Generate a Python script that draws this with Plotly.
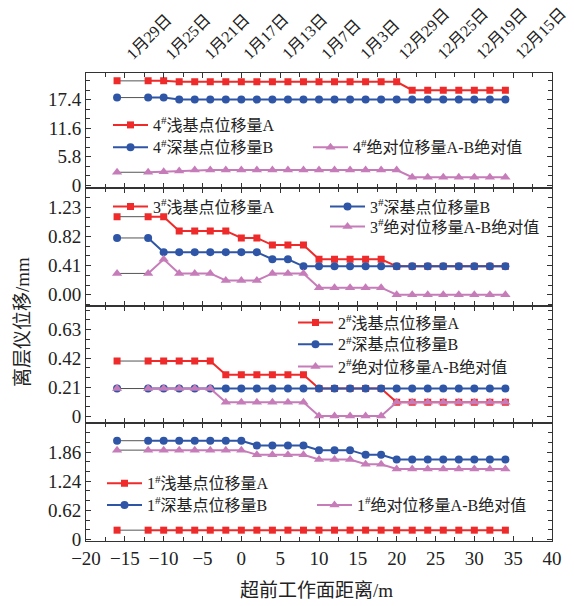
import plotly.graph_objects as go
import numpy as np

# ---------------- data ----------------
x_dist = [-16, -12, -10, -8, -6, -4, -2, 0, 2, 4, 6, 8, 10, 12, 14, 16, 18, 20, 22, 24, 26, 28, 30, 32, 34]

a4 = [21.2, 21.2, 21.2] + [21.0] * 15 + [19.3] * 7
b4 = [17.8, 17.8, 17.8] + [17.4] * 22
p4 = [2.6, 2.6, 2.7, 2.85] + [3.05] * 14 + [1.6] * 7

a3 = [1.1, 1.1, 1.1, 0.9, 0.9, 0.9, 0.9, 0.8, 0.8, 0.7, 0.7, 0.7, 0.5, 0.5, 0.5, 0.5, 0.5] + [0.4] * 8
b3 = [0.8, 0.8] + [0.6] * 7 + [0.5, 0.5] + [0.4] * 14
p3 = [0.3, 0.3, 0.5, 0.3, 0.3, 0.3, 0.2, 0.2, 0.2, 0.3, 0.3, 0.3, 0.1, 0.1, 0.1, 0.1, 0.1] + [0.0] * 8

a2 = [0.4] * 6 + [0.3] * 6 + [0.2] * 5 + [0.1] * 8
b2 = [0.2] * 25
p2 = [0.2] * 6 + [0.1] * 6 + [0.0] * 5 + [0.1] * 8

a1 = [0.2] * 25
b1 = [2.1] * 8 + [2.0] * 4 + [1.9] * 3 + [1.8] * 2 + [1.7] * 8
p1 = [1.9] * 8 + [1.8] * 4 + [1.7] * 3 + [1.6] * 2 + [1.5] * 8

x_ticks = [-20, -15, -10, -5, 0, 5, 10, 15, 20, 25, 30, 35, 40]
x_tick_labels = ["−20", "−15", "−10", "−5", "0", "5", "10", "15", "20", "25", "30", "35", "40"]
date_positions = [-15, -10, -5, 0, 5, 10, 15, 20, 25, 30, 35]
date_labels = ["1月29日", "1月25日", "1月21日", "1月17日", "1月13日", "1月7日", "1月3日",
               "12月29日", "12月25日", "12月19日", "12月15日"]

y_majors = {
    4: ([0, 5.8, 11.6, 17.4], ["0", "5.8", "11.6", "17.4"]),
    3: ([0, 0.41, 0.82, 1.23], ["0.00", "0.41", "0.82", "1.23"]),
    2: ([0, 0.21, 0.42, 0.63], ["0", "0.21", "0.42", "0.63"]),
    1: ([0, 0.62, 1.24, 1.86], ["0", "0.62", "1.24", "1.86"]),
}
y_ranges = {4: [-0.67, 22.8], 3: [-0.16, 1.50], 2: [-0.053, 0.80], 1: [-0.03, 2.47]}
domains = {1: [0, 0.2515], 2: [0.2515, 0.502], 3: [0.502, 0.7536], 4: [0.7536, 1]}

RED = "#ee2a2a"
BLUE = "#2f56a6"
PINK = "#c77cba"
GRAY = "#555555"

FONT_SERIF = "Liberation Serif, Noto Sans CJK SC, serif"
FONT_CJK = "Liberation Serif, Noto Sans CJK SC, sans-serif"

series = {
    4: [(a4, "4<sup>#</sup>浅基点位移量A", RED, "square"),
        (b4, "4<sup>#</sup>深基点位移量B", BLUE, "circle"),
        (p4, "4<sup>#</sup>绝对位移量A-B绝对值", PINK, "triangle-up")],
    3: [(a3, "3<sup>#</sup>浅基点位移量A", RED, "square"),
        (b3, "3<sup>#</sup>深基点位移量B", BLUE, "circle"),
        (p3, "3<sup>#</sup>绝对位移量A-B绝对值", PINK, "triangle-up")],
    2: [(a2, "2<sup>#</sup>浅基点位移量A", RED, "square"),
        (b2, "2<sup>#</sup>深基点位移量B", BLUE, "circle"),
        (p2, "2<sup>#</sup>绝对位移量A-B绝对值", PINK, "triangle-up")],
    1: [(a1, "1<sup>#</sup>浅基点位移量A", RED, "square"),
        (b1, "1<sup>#</sup>深基点位移量B", BLUE, "circle"),
        (p1, "1<sup>#</sup>绝对位移量A-B绝对值", PINK, "triangle-up")],
}

W_PLOT, H_PLOT, L, B = 466.0, 468.0, 86.0, 65.0
def px2paper(px, py):
    return (px - L) / W_PLOT, (606 - B - py) / H_PLOT

legend_px = {
    4: [(108, 125), (108, 147.3), (308, 147.3)],
    3: [(108, 206.7), (325, 206.7), (325, 226.7)],
    2: [(293, 322.7), (293, 344.3), (293, 366.7)],
    1: [(102, 483.3), (102, 505), (312, 505)],
}

fig = go.Figure()
layout = {}
leg_idx = 0
for panel in [4, 3, 2, 1]:
    xa = "x" if panel == 1 else f"x{panel}"
    ya = "y" if panel == 1 else f"y{panel}"
    for k, (vals, name, color, sym) in enumerate(series[panel]):
        leg_idx += 1
        lname = "legend" if leg_idx == 1 else f"legend{leg_idx}"
        msize = 7 if sym == "square" else (8 if sym == "circle" else 9)
        fig.add_trace(go.Scatter(x=x_dist[:2], y=vals[:2], mode="lines",
                                 line=dict(color=GRAY, width=1), showlegend=False,
                                 hoverinfo="skip", xaxis=xa, yaxis=ya))
        fig.add_trace(go.Scatter(x=x_dist[:1], y=vals[:1], mode="markers",
                                 marker=dict(symbol=sym, size=msize, color=color),
                                 showlegend=False, xaxis=xa, yaxis=ya))
        fig.add_trace(go.Scatter(x=x_dist[1:], y=vals[1:], mode="lines+markers", name=name,
                                 line=dict(color=color, width=2),
                                 marker=dict(symbol=sym, size=msize, color=color),
                                 legend=lname, xaxis=xa, yaxis=ya))
        lx, ly = px2paper(*legend_px[panel][k])
        layout[lname] = dict(x=lx, y=ly, xanchor="left", yanchor="middle",
                             bgcolor="rgba(0,0,0,0)", borderwidth=0, itemwidth=35,
                             font=dict(family=FONT_CJK, size=16, color="#222"),
                             tracegroupgap=0)

axis_common = dict(showline=True, linecolor="#333", linewidth=1, mirror="allticks",
                   ticks="inside", ticklen=5, tickcolor="#333", showgrid=False,
                   zeroline=False, automargin=False)

for panel in [1, 2, 3, 4]:
    xk = "xaxis" if panel == 1 else f"xaxis{panel}"
    yk = "yaxis" if panel == 1 else f"yaxis{panel}"
    yname = "y" if panel == 1 else f"y{panel}"
    xname = "x" if panel == 1 else f"x{panel}"
    xa = dict(axis_common, domain=[0, 1], range=[-20, 40], anchor=yname,
              tickmode="array", tickvals=x_ticks,
              minor=dict(tickmode="array", tickvals=list(np.arange(-17.5, 40, 5)),
                         ticks="inside", ticklen=4, tickcolor="#333"),
              tickfont=dict(family=FONT_SERIF, size=19, color="#222"))
    if panel == 1:
        xa["ticktext"] = x_tick_labels
    else:
        xa["showticklabels"] = False
        xa["matches"] = "x"
    layout[xk] = xa
    maj, txt = y_majors[panel]
    step = maj[1] - maj[0]
    minor_vals = []
    for m in range(-1, 6):
        for j in (1, 2):
            mv = m * step + j * step / 3.0
            if y_ranges[panel][0] < mv < y_ranges[panel][1]:
                minor_vals.append(mv)
    layout[yk] = dict(axis_common, domain=domains[panel], range=y_ranges[panel], anchor=xname,
                      tickmode="array", tickvals=maj, ticktext=txt,
                      minor=dict(tickmode="array", tickvals=minor_vals, ticks="inside",
                                 ticklen=4, tickcolor="#333"),
                      tickfont=dict(family=FONT_SERIF, size=19, color="#222"))

annotations = [
    dict(text="离层仪位移/mm", textangle=-90, xref="paper", yref="paper",
         x=(22 - 86) / 466.0, y=(541 - 322) / 468.0, xanchor="center", yanchor="middle",
         showarrow=False, font=dict(family=FONT_CJK, size=19, color="#222")),
    dict(text="超前工作面距离/m", xref="paper", yref="paper",
         x=(316 - 86) / 466.0, y=(541 - 590) / 468.0, xanchor="center", yanchor="middle",
         showarrow=False, font=dict(family=FONT_CJK, size=19, color="#222")),
]
for pos, lab in zip(date_positions, date_labels):
    annotations.append(dict(text=lab, textangle=-45, xref="x4", yref="paper",
                            x=pos - 0.35, y=(541 - 64) / 468.0,
                            xanchor="left", yanchor="bottom", showarrow=False,
                            borderpad=0,
                            font=dict(family=FONT_CJK, size=16, color="#222")))

fig.update_layout(**layout)
fig.update_layout(
    width=574, height=606,
    margin=dict(l=86, r=22, t=73, b=65),
    paper_bgcolor="white", plot_bgcolor="white",
    font=dict(family=FONT_CJK, color="#222"),
    annotations=annotations,
)

fig.write_html("out.html", config={"displayModeBar": False},
               post_script="document.body.style.margin='0';")
